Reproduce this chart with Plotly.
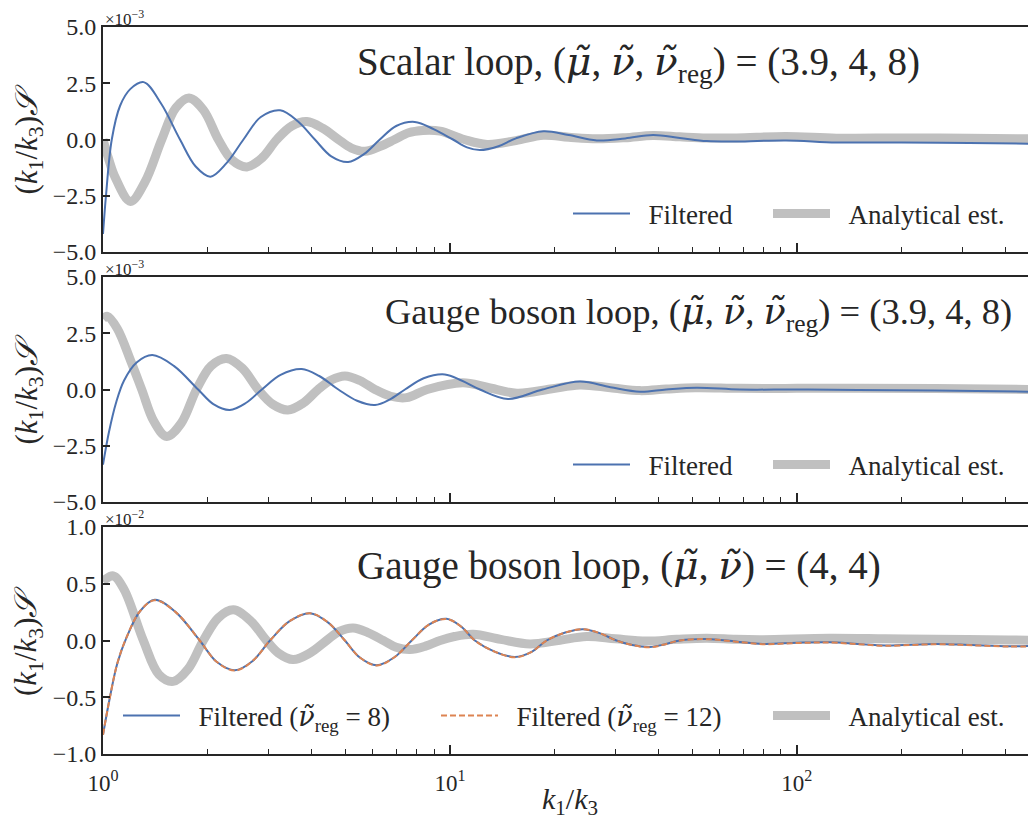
import math
import plotly.graph_objects as go

# ---------------- data (values shown in units of the axis offset) ----------------
# Panel 1: Scalar loop (x 1e-3)
top_k_filt = [1.0, 1.02, 1.06, 1.12, 1.2, 1.31, 1.47, 1.667, 1.85, 2.04, 2.27, 2.54, 2.85, 3.24,
              3.65, 4.08, 4.55, 5.09, 5.65, 6.28, 7.0, 7.92, 9.0, 10.2, 11.2, 12.2, 13.8, 15.5,
              18.6, 22, 26.5, 32, 38.5, 46, 55, 67, 93, 130, 200, 314, 489]
top_filt = [-4.2, -2.5, 0.0, 1.5, 2.25, 2.55, 1.6, 0.0, -1.2, -1.65, -1.05, 0.0, 1.0, 1.3,
            0.8, 0.0, -0.75, -1.0, -0.65, 0.0, 0.6, 0.78, 0.45, 0.0, -0.35, -0.47, -0.3, 0.05,
            0.37, 0.2, -0.04, 0.05, 0.2, 0.07, -0.07, -0.09, -0.04, -0.13, -0.13, -0.16, -0.19]
top_k_ana = [1.0, 1.04, 1.083, 1.2, 1.32, 1.477, 1.62, 1.77, 1.95, 2.15, 2.35, 2.6, 2.88, 3.17,
             3.5, 3.87, 4.3, 4.77, 5.2, 5.69, 6.3, 6.93, 7.6, 8.36, 9.37, 11.0, 12.8, 15.5,
             18.6, 22, 26.5, 32, 38.5, 46, 55, 67, 93, 130, 200, 314, 489]
top_ana = [0.0, -0.9, -1.67, -2.75, -1.9, 0.0, 1.4, 1.85, 1.3, 0.0, -0.9, -1.22, -0.8, 0.0,
           0.6, 0.8, 0.5, 0.0, -0.38, -0.52, -0.3, 0.0, 0.3, 0.4, 0.37, 0.0, -0.22, -0.05,
           0.19, 0.1, 0.03, 0.08, 0.18, 0.12, 0.07, 0.07, 0.13, 0.06, 0.07, 0.06, 0.03]

# Panel 2: Gauge boson loop (x 1e-3)
mid_k_filt = [1.0, 1.04, 1.09, 1.15, 1.25, 1.387, 1.6, 1.88, 2.08, 2.32, 2.58, 2.87, 3.25, 3.74,
              4.2, 4.77, 5.4, 6.08, 6.7, 7.42, 8.4, 9.67, 10.8, 12.2, 14.7, 18.5, 23.7, 29,
              35.3, 42, 51.4, 68.5, 100, 150, 250, 489]
mid_filt = [-3.34, -1.9, -0.6, 0.4, 1.2, 1.53, 1.05, 0.0, -0.65, -0.91, -0.6, 0.0, 0.65, 0.91,
            0.6, 0.0, -0.5, -0.69, -0.45, 0.0, 0.5, 0.67, 0.4, 0.0, -0.42, 0.0, 0.35, 0.1,
            -0.1, 0.0, 0.08, 0.0, 0.0, -0.02, -0.05, -0.1]
mid_k_ana = [1.0, 1.03, 1.1, 1.2, 1.293, 1.4, 1.526, 1.68, 1.86, 2.05, 2.27, 2.52, 2.8, 3.08,
             3.41, 3.78, 4.17, 4.55, 4.98, 5.5, 6.08, 6.75, 7.5, 8.6, 10.9, 12.8, 15.6, 19.5,
             23.7, 29, 35.3, 42, 51, 68.5, 100, 150, 250, 489]
mid_ana = [3.15, 3.25, 2.7, 1.3, 0.0, -1.4, -2.09, -1.5, 0.0, 1.05, 1.38, 0.95, 0.0, -0.65,
           -0.91, -0.6, 0.0, 0.42, 0.6, 0.4, 0.0, -0.3, -0.36, 0.0, 0.3, 0.1, -0.17, 0.02,
           0.2, 0.08, -0.05, 0.02, 0.08, 0.05, 0.05, 0.05, 0.04, 0.0]

# Panel 3: Gauge boson loop (4,4) (x 1e-2)
bot_k_filt = [1.0, 1.047, 1.1, 1.17, 1.28, 1.41, 1.62, 1.90, 2.13, 2.40, 2.7, 3.03, 3.45, 3.95,
              4.45, 4.98, 5.5, 6.15, 6.9, 7.76, 8.7, 9.78, 10.8, 11.8, 13.5, 15.4, 17.2, 19.0,
              21.5, 24.2, 27, 30.2, 33.5, 37.7, 41.5, 46, 55, 66.7, 79.7, 100, 124, 150, 180.5,
              251.6, 320, 409, 489]
bot_filt8 = [-0.83, -0.5, -0.2, 0.03, 0.26, 0.358, 0.25, 0.0, -0.19, -0.262, -0.18, 0.0, 0.17,
             0.241, 0.16, 0.0, -0.15, -0.218, -0.15, 0.0, 0.14, 0.191, 0.12, 0.0, -0.1, -0.145,
             -0.1, 0.0, 0.07, 0.1, 0.065, 0.0, -0.04, -0.057, -0.035, 0.0, 0.013, -0.008, -0.03,
             -0.02, -0.016, -0.03, -0.043, -0.03, -0.04, -0.05, -0.046]
bot_filt12 = [-0.83, -0.5, -0.2, 0.03, 0.26, 0.355, 0.25, 0.0, -0.19, -0.265, -0.18, 0.0, 0.17,
              0.24, 0.16, 0.0, -0.15, -0.22, -0.15, 0.0, 0.14, 0.19, 0.12, 0.0, -0.1, -0.148,
              -0.1, 0.0, 0.07, 0.1, 0.065, 0.0, -0.04, -0.06, -0.035, 0.0, 0.012, -0.01, -0.032,
              -0.022, -0.018, -0.032, -0.046, -0.033, -0.042, -0.053, -0.05]
bot_k_ana = [1.0, 1.07, 1.15, 1.307, 1.45, 1.594, 1.76, 1.946, 2.15, 2.375, 2.65, 2.96, 3.2,
             3.53, 3.95, 4.41, 4.8, 5.26, 5.8, 6.43, 7.0, 7.67, 8.5, 9.37, 10.3, 11.67, 14,
             17.0, 20.5, 24.8, 30, 36.9, 45, 55, 66.7, 79.7, 124, 180, 251.6, 409, 489]
bot_ana = [0.52, 0.57, 0.45, 0.0, -0.3, -0.36, -0.25, 0.0, 0.2, 0.27, 0.18, 0.0, -0.11,
           -0.168, -0.11, 0.0, 0.08, 0.11, 0.07, 0.0, -0.06, -0.08, -0.05, 0.0, 0.035, 0.055,
           0.01, -0.03, 0.0, 0.035, 0.015, -0.005, 0.01, 0.02, 0.01, 0.007, 0.02, 0.015, 0.01,
           0.005, 0.0]

x_major = [1, 10, 100]
x_major_text = ["10<sup>0</sup>", "10<sup>1</sup>", "10<sup>2</sup>"]
x_minor = [2, 3, 4, 5, 6, 7, 8, 9, 20, 30, 40, 50, 60, 70, 80, 90, 200, 300, 400]
y_ticks_e3 = [-5, -2.5, 0, 2.5, 5]
y_text_e3 = ["\u22125.0", "\u22122.5", "0.0", "2.5", "5.0"]
y_ticks_e2 = [-1, -0.5, 0, 0.5, 1]
y_text_e2 = ["\u22121.0", "\u22120.5", "0.0", "0.5", "1.0"]

GR = '<span style="font-family:DejaVu Serif"><i>{}</i></span>'
MU = GR.format("\u03bc\u0303")
NU = GR.format("\u03bd\u0303")
titles = [
    "Scalar loop, (" + MU + ", " + NU + ", " + NU + "<sub>reg</sub>) = (3.9, 4, 8)",
    "Gauge boson loop, (" + MU + ", " + NU + ", " + NU + "<sub>reg</sub>) = (3.9, 4, 8)",
    "Gauge boson loop, (" + MU + ", " + NU + ") = (4, 4)",
]
legend_names = {
    "filt": "Filtered",
    "ana": "Analytical est.",
    "f8": "Filtered (" + NU + "<sub>reg</sub> = 8)",
    "f12": "Filtered (" + NU + "<sub>reg</sub> = 12)",
}

# ---------------- styling ----------------
OFF = 8                      # page body margin
W, H = 1036 - OFF, 823 - OFF
ML, MR, MT, MB = 103 - OFF, 0, 27 - OFF, 823 - 754
FONT = "Liberation Serif"
INK = "#262626"
BLUE = "#4C72B0"
ORANGE = "#DD8452"
GRAY = "#C0C0C0"

plot_h = H - MT - MB
plot_w = W - ML - MR


def yfrac(py):          # page pixel -> paper fraction
    return (H - MB - (py - OFF)) / plot_h


def xfrac(px):
    return (px - OFF - ML) / plot_w


fig = go.Figure()

SM = 1.0
traces = [
    (top_k_ana, top_ana, legend_names["ana"], GRAY, 9, "solid", "x", "y", "legend2"),
    (top_k_filt, top_filt, legend_names["filt"], BLUE, 2, "solid", "x", "y", "legend"),
    (mid_k_ana, mid_ana, legend_names["ana"], GRAY, 9, "solid", "x2", "y2", "legend4"),
    (mid_k_filt, mid_filt, legend_names["filt"], BLUE, 2, "solid", "x2", "y2", "legend3"),
    (bot_k_ana, bot_ana, legend_names["ana"], GRAY, 9, "solid", "x3", "y3", "legend7"),
    (bot_k_filt, bot_filt8, legend_names["f8"], BLUE, 2, "solid", "x3", "y3", "legend5"),
    (bot_k_filt, bot_filt12, legend_names["f12"], ORANGE, 2, "6px,3px", "x3", "y3", "legend6"),
]
for kx, vy, nm, col, wd, dash, xa, ya, lg in traces:
    fig.add_trace(go.Scatter(x=kx, y=vy, mode="lines", name="\u00a0\u00a0" + nm,
                             line=dict(color=col, width=wd, dash=dash, shape="spline", smoothing=SM),
                             xaxis=xa, yaxis=ya, legend=lg))

domains = [[yfrac(252), yfrac(27)], [yfrac(502), yfrac(277)], [0, yfrac(527)]]
xr = [0, math.log10(489)]


def xaxis(show_labels, match=None, anchor="y"):
    d = dict(type="log", range=xr, domain=[0, 1], anchor=anchor,
             showline=True, linecolor=INK, linewidth=2, mirror=True,
             ticks="inside", ticklen=9, tickwidth=1.6, tickcolor=INK,
             tickmode="array", tickvals=x_major, ticktext=x_major_text,
             showticklabels=show_labels, ticklabelstandoff=7,
             tickfont=dict(family=FONT, size=23, color=INK),
             minor=dict(tickmode="array", tickvals=x_minor, ticks="inside",
                        ticklen=5, tickwidth=1.2, tickcolor=INK, showgrid=False),
             showgrid=False, zeroline=False)
    if match:
        d["matches"] = match
    return d


def yaxis(dom, rng, tv, tt, anchor):
    return dict(domain=dom, range=rng, anchor=anchor,
                showline=True, linecolor=INK, linewidth=2, mirror=False,
                ticks="inside", ticklen=7, tickwidth=1.6, tickcolor=INK,
                tickmode="array", tickvals=tv, ticktext=tt,
                tickfont=dict(family=FONT, size=24, color=INK),
                showgrid=False, zeroline=False)


def legend(px, py):
    return dict(orientation="h", x=xfrac(px), xanchor="left",
                y=yfrac(py), yanchor="middle", bgcolor="rgba(0,0,0,0)",
                font=dict(family=FONT, size=27, color=INK),
                itemwidth=57, tracegroupgap=0)


LX = -4
fig.update_layout(
    width=W, height=H,
    margin=dict(l=ML, r=MR, t=MT, b=MB),
    paper_bgcolor="white", plot_bgcolor="white",
    font=dict(family=FONT, color=INK),
    xaxis=xaxis(False, anchor="y"),
    xaxis2=xaxis(False, match="x", anchor="y2"),
    xaxis3=xaxis(True, match="x", anchor="y3"),
    yaxis=yaxis(domains[0], [-5, 5], y_ticks_e3, y_text_e3, "x"),
    yaxis2=yaxis(domains[1], [-5, 5], y_ticks_e3, y_text_e3, "x2"),
    yaxis3=yaxis(domains[2], [-1, 1], y_ticks_e2, y_text_e2, "x3"),
    legend=legend(572 + LX, 214),
    legend2=legend(772 + LX, 214),
    legend3=legend(572 + LX, 465),
    legend4=legend(772 + LX, 465),
    legend5=legend(122 + LX, 716),
    legend6=legend(440 + LX, 716),
    legend7=legend(772 + LX, 716),
    showlegend=True,
)

ann = []
title_pos = [(355, 64, 39), (383, 314, 36.5), (355, 565, 39)]
for t, (px, py, fs) in zip(titles, title_pos):
    ann.append(dict(text=t, xref="paper", yref="paper", x=xfrac(px), y=yfrac(py),
                    xanchor="left", yanchor="middle", showarrow=False,
                    font=dict(family=FONT, size=fs, color=INK)))

offsets = [("\u00d710<sup>\u22123</sup>", 27), ("\u00d710<sup>\u22123</sup>", 277),
           ("\u00d710<sup>\u22122</sup>", 527)]
for t, py in offsets:
    ann.append(dict(text=t, xref="paper", yref="paper", x=0, y=yfrac(py),
                    xanchor="left", yanchor="bottom", showarrow=False, yshift=-4,
                    font=dict(family=FONT, size=17, color=INK)))

ylabel = "(<i>k</i><sub>1</sub>/<i>k</i><sub>3</sub>)<i>\U0001D4AE</i>"
for py in [139.5, 389.5, 641]:
    ann.append(dict(text=ylabel, xref="paper", yref="paper", x=xfrac(28), y=yfrac(py),
                    xanchor="center", yanchor="middle", textangle=-90, showarrow=False,
                    font=dict(family=FONT, size=31, color=INK)))

ann.append(dict(text="<i>k</i><sub>1</sub>/<i>k</i><sub>3</sub>", xref="paper", yref="paper",
                x=0.5, y=yfrac(801), xanchor="center", yanchor="middle", showarrow=False,
                font=dict(family=FONT, size=30, color=INK)))

fig.update_layout(annotations=ann)
fig.write_html("out.html")
